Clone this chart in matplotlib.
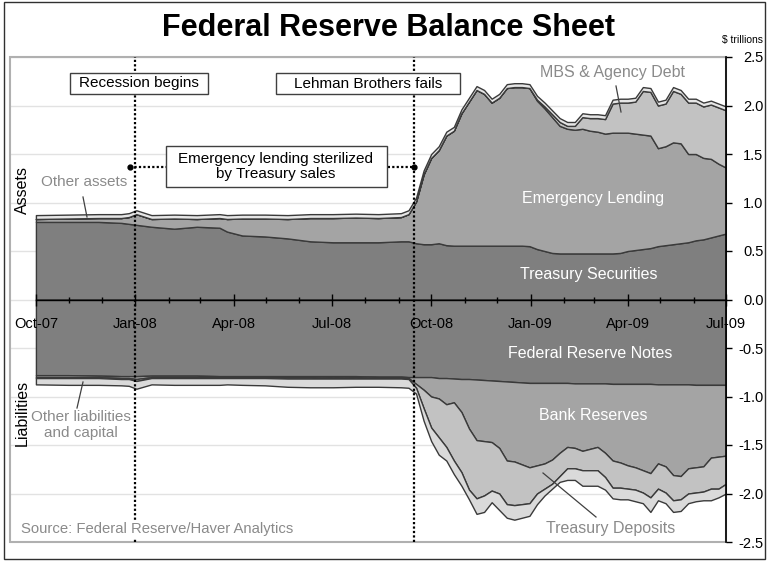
import matplotlib
matplotlib.use('Agg')
import matplotlib.pyplot as plt
import matplotlib.dates as mdates
from matplotlib.patches import Rectangle
from matplotlib.lines import Line2D
from matplotlib.ticker import FormatStrFormatter
import numpy as np
import pandas as pd

plt.rcParams['font.family'] = ['Liberation Sans', 'DejaVu Sans']
plt.rcParams['axes.unicode_minus'] = False

# ---------------- data (trillions of dollars) ----------------
dates = pd.to_datetime([
    '2007-10-01', '2007-10-31', '2007-11-28', '2007-12-19', '2007-12-26',
    '2008-01-02', '2008-01-16', '2008-02-06', '2008-02-27', '2008-03-19',
    '2008-03-26', '2008-04-09', '2008-04-30', '2008-05-21', '2008-06-11',
    '2008-07-02', '2008-07-23', '2008-08-13', '2008-09-03', '2008-09-10',
    '2008-09-17', '2008-09-24', '2008-10-01', '2008-10-08', '2008-10-15',
    '2008-10-22', '2008-10-29', '2008-11-05', '2008-11-12', '2008-11-19',
    '2008-11-26', '2008-12-03', '2008-12-10', '2008-12-17', '2008-12-24',
    '2008-12-31', '2009-01-07', '2009-01-14', '2009-01-21', '2009-01-28',
    '2009-02-04', '2009-02-11', '2009-02-18', '2009-02-25', '2009-03-04',
    '2009-03-11', '2009-03-18', '2009-03-25', '2009-04-01', '2009-04-08',
    '2009-04-15', '2009-04-22', '2009-04-29', '2009-05-06', '2009-05-13',
    '2009-05-20', '2009-05-27', '2009-06-03', '2009-06-10', '2009-06-17',
    '2009-06-24', '2009-07-01'])

# Assets
treasury_securities = [
    0.80, 0.80, 0.80, 0.79, 0.78, 0.77, 0.75, 0.73, 0.75, 0.74,
    0.70, 0.66, 0.65, 0.63, 0.60, 0.59, 0.59, 0.59, 0.60, 0.60,
    0.58, 0.57, 0.57, 0.58, 0.56, 0.555, 0.555, 0.555, 0.555, 0.555,
    0.555, 0.555, 0.555, 0.555, 0.555, 0.55, 0.52, 0.50, 0.48, 0.475,
    0.475, 0.475, 0.475, 0.475, 0.475, 0.475, 0.475, 0.48, 0.50, 0.51,
    0.52, 0.53, 0.55, 0.56, 0.57, 0.58, 0.59, 0.61, 0.62, 0.64,
    0.66, 0.68]
emergency_lending = [
    0.03, 0.035, 0.04, 0.05, 0.07, 0.11, 0.08, 0.105, 0.08, 0.10,
    0.13, 0.175, 0.185, 0.20, 0.24, 0.25, 0.255, 0.25, 0.25, 0.28,
    0.43, 0.72, 0.89, 0.96, 1.13, 1.185, 1.365, 1.485, 1.605, 1.565,
    1.475, 1.525, 1.625, 1.635, 1.635, 1.63, 1.53, 1.47, 1.40, 1.315,
    1.285, 1.275, 1.285, 1.265, 1.255, 1.235, 1.245, 1.24, 1.22, 1.20,
    1.18, 1.16, 1.01, 1.02, 1.05, 1.03, 0.91, 0.89, 0.84, 0.81,
    0.74, 0.68]
mbs_agency_debt = [
    0.0, 0.0, 0.0, 0.0, 0.0, 0.0, 0.0, 0.0, 0.0, 0.0,
    0.0, 0.0, 0.0, 0.0, 0.0, 0.0, 0.0, 0.0, 0.0, 0.0,
    0.0, 0.0, 0.0, 0.0, 0.0, 0.0, 0.0, 0.0, 0.0, 0.0,
    0.0, 0.0, 0.0, 0.0, 0.0, 0.0, 0.01, 0.02, 0.03, 0.04,
    0.03, 0.04, 0.12, 0.13, 0.14, 0.15, 0.30, 0.31, 0.31, 0.33,
    0.45, 0.45, 0.44, 0.44, 0.53, 0.51, 0.53, 0.53, 0.53, 0.56,
    0.58, 0.59]
other_assets = [
    0.04, 0.04, 0.04, 0.04, 0.04, 0.04, 0.04, 0.04, 0.04, 0.04,
    0.04, 0.04, 0.04, 0.04, 0.04, 0.04, 0.04, 0.04, 0.04, 0.04,
    0.04, 0.04, 0.04, 0.04, 0.04, 0.04, 0.04, 0.04, 0.04, 0.04,
    0.04, 0.04, 0.04, 0.04, 0.04, 0.04, 0.04, 0.04, 0.04, 0.04,
    0.04, 0.04, 0.04, 0.04, 0.04, 0.04, 0.04, 0.04, 0.04, 0.04,
    0.04, 0.04, 0.04, 0.04, 0.04, 0.04, 0.04, 0.04, 0.04, 0.04,
    0.04, 0.04]

# Liabilities (magnitudes; plotted downward)
fed_reserve_notes = [
    0.78, 0.78, 0.785, 0.79, 0.79, 0.79, 0.785, 0.785, 0.785, 0.79,
    0.79, 0.79, 0.79, 0.79, 0.79, 0.79, 0.79, 0.795, 0.795, 0.80,
    0.80, 0.80, 0.80, 0.81, 0.81, 0.815, 0.82, 0.82, 0.825, 0.83,
    0.835, 0.84, 0.845, 0.85, 0.855, 0.86, 0.86, 0.86, 0.86, 0.86,
    0.86, 0.865, 0.865, 0.865, 0.865, 0.865, 0.87, 0.87, 0.87, 0.87,
    0.87, 0.87, 0.875, 0.875, 0.875, 0.875, 0.875, 0.88, 0.88, 0.88,
    0.88, 0.88]
bank_reserves = [
    0.02, 0.02, 0.015, 0.02, 0.02, 0.03, 0.015, 0.015, 0.015, 0.01,
    0.01, 0.01, 0.01, 0.01, 0.01, 0.015, 0.01, 0.01, 0.01, 0.01,
    0.07, 0.13, 0.20, 0.21, 0.27, 0.245, 0.34, 0.51, 0.625, 0.63,
    0.635, 0.69, 0.815, 0.82, 0.845, 0.87, 0.85, 0.83, 0.79, 0.72,
    0.66, 0.665, 0.695, 0.675, 0.655, 0.715, 0.79, 0.81, 0.84, 0.86,
    0.89, 0.92, 0.815, 0.845, 0.935, 0.945, 0.865, 0.85, 0.84, 0.75,
    0.74, 0.73]
treasury_deposits = [
    0.01, 0.01, 0.01, 0.01, 0.01, 0.02, 0.01, 0.01, 0.01, 0.01,
    0.01, 0.01, 0.01, 0.015, 0.015, 0.01, 0.015, 0.01, 0.01, 0.01,
    0.04, 0.19, 0.32, 0.40, 0.44, 0.60, 0.62, 0.63, 0.60, 0.56,
    0.50, 0.47, 0.45, 0.45, 0.41, 0.37, 0.29, 0.26, 0.25, 0.24,
    0.22, 0.21, 0.20, 0.22, 0.24, 0.25, 0.28, 0.26, 0.24, 0.23,
    0.23, 0.25, 0.26, 0.27, 0.26, 0.24, 0.26, 0.26, 0.26, 0.32,
    0.33, 0.29]
other_liabilities_capital = [
    0.065, 0.07, 0.07, 0.065, 0.07, 0.08, 0.065, 0.07, 0.07, 0.07,
    0.065, 0.07, 0.075, 0.085, 0.09, 0.09, 0.085, 0.085, 0.09, 0.09,
    0.06, 0.13, 0.14, 0.18, 0.14, 0.14, 0.14, 0.10, 0.16, 0.17,
    0.12, 0.17, 0.14, 0.15, 0.14, 0.13, 0.11, 0.07, 0.05, 0.06,
    0.12, 0.12, 0.16, 0.16, 0.16, 0.13, 0.11, 0.12, 0.11, 0.12,
    0.11, 0.15, 0.12, 0.11, 0.12, 0.12, 0.10, 0.09, 0.09, 0.12,
    0.09, 0.10]

recession_date = pd.Timestamp('2008-01-01')
lehman_date = pd.Timestamp('2008-09-15')
sterilized_start = pd.Timestamp('2007-12-27')
sterilized_level = 1.37

x_start = pd.Timestamp('2007-09-07')
x_end = pd.Timestamp('2009-07-01')
y_ticks = [-2.5, -2.0, -1.5, -1.0, -0.5, 0.0, 0.5, 1.0, 1.5, 2.0, 2.5]

# ---------------- figure ----------------
W, H = 768, 562
fig = plt.figure(figsize=(W / 100, H / 100), dpi=100)
fig.patch.set_facecolor('white')

def fx(px):
    return px / W

def fy(py):
    return 1 - py / H

L, R, T, B = 10, 726, 57, 542
ax = fig.add_axes([fx(L), fy(B), (R - L) / W, (B - T) / H])
ax.set_facecolor('white')

c_dark, c_mid, c_light, c_lightest = '#7f7f7f', '#a4a4a4', '#c2c2c2', '#e6e6e6'
edge = '#3a3a3a'

for v in y_ticks:
    ax.axhline(v, color='#e2e2e2', lw=1.0, zorder=0.5)

ax.stackplot(dates, treasury_securities, emergency_lending, mbs_agency_debt,
             other_assets, colors=[c_dark, c_mid, c_light, c_lightest],
             edgecolor=edge, linewidth=1.0, zorder=1)
ax.stackplot(dates, -np.array(fed_reserve_notes), -np.array(bank_reserves),
             -np.array(treasury_deposits), -np.array(other_liabilities_capital),
             colors=[c_dark, c_mid, c_light, '#dadada'],
             edgecolor=edge, linewidth=1.0, zorder=1)

ax.set_xlim(x_start, x_end)
ax.set_ylim(-2.5, 2.5)

# spines
for s in ['left', 'top']:
    ax.spines[s].set_visible(False)
ax.spines['bottom'].set_position(('data', 0))
ax.spines['bottom'].set_color('black')
ax.spines['bottom'].set_linewidth(1.0)
ax.spines['bottom'].set_bounds(mdates.date2num(dates[0]), mdates.date2num(x_end))
ax.spines['right'].set_color('black')
ax.spines['right'].set_linewidth(1.2)
ax.add_patch(Rectangle((0, 0), 1, 1, transform=ax.transAxes, fill=False,
                       ec='#b0b0b0', lw=1.5, clip_on=False, zorder=0.6))

# x axis
ax.xaxis.set_major_locator(mdates.MonthLocator(bymonth=[1, 4, 7, 10]))
ax.xaxis.set_major_formatter(mdates.DateFormatter('%b-%y'))
ax.xaxis.set_minor_locator(mdates.MonthLocator())
ax.tick_params(axis='x', which='major', direction='inout', length=9, width=1,
               pad=8, labelsize=10.5, colors='black')
ax.tick_params(axis='x', which='minor', direction='inout', length=5, width=1)

# y axis
ax.yaxis.tick_right()
ax.set_yticks(y_ticks)
ax.yaxis.set_major_formatter(FormatStrFormatter('%.1f'))
ax.tick_params(axis='y', direction='out', length=4, width=1, labelsize=10.5, pad=23)
for lab in ax.get_yticklabels():
    lab.set_horizontalalignment('right')

# event lines
dot = (0, (1, 1))
for d in [recession_date, lehman_date]:
    ax.axvline(d, color='black', lw=1.6, ls=dot, zorder=4)
ax.plot([sterilized_start, lehman_date], [sterilized_level, sterilized_level],
        color='black', lw=1.6, ls=dot, zorder=4)
ax.plot([sterilized_start, lehman_date], [sterilized_level, sterilized_level],
        ls='none', marker='o', ms=3.5, color='black', zorder=4)

# ---------------- text ----------------
fig.text(fx(389), fy(28), 'Federal Reserve Balance Sheet', ha='center', va='center',
         fontsize=22, fontweight='bold')
fig.text(fx(743), fy(40), '$ trillions', ha='center', va='center', fontsize=7.5)

def box(x0, y0, x1, y1):
    fig.patches.append(Rectangle((fx(x0), fy(y1)), (x1 - x0) / W, (y1 - y0) / H,
                                 transform=fig.transFigure, fc='white', ec='#404040',
                                 lw=1.0, zorder=6))

box(70, 73, 208, 94)
fig.text(fx(139), fy(83.5), 'Recession begins', ha='center', va='center', fontsize=11, zorder=7)
box(276, 73, 460, 94)
fig.text(fx(368), fy(83.5), 'Lehman Brothers fails', ha='center', va='center', fontsize=11, zorder=7)
box(166, 146, 387, 187)
fig.text(fx(276), fy(166.5), 'Emergency lending sterilized\nby Treasury sales', ha='center',
         va='center', fontsize=11, linespacing=1.05, zorder=7)

gray_txt = '#8a8a8a'
fig.text(fx(612), fy(72), 'MBS & Agency Debt', ha='center', va='center', fontsize=11.5, color=gray_txt, zorder=7)
fig.text(fx(593), fy(198), 'Emergency Lending', ha='center', va='center', fontsize=11.5, color='white', zorder=7)
fig.text(fx(589), fy(275), 'Treasury Securities', ha='center', va='center', fontsize=11.5, color='white', zorder=7)
fig.text(fx(590), fy(353), 'Federal Reserve Notes', ha='center', va='center', fontsize=11.5, color='white', zorder=7)
fig.text(fx(593), fy(416), 'Bank Reserves', ha='center', va='center', fontsize=11.5, color='white', zorder=7)
fig.text(fx(611), fy(529), 'Treasury Deposits', ha='center', va='center', fontsize=11.5, color=gray_txt, zorder=7)
fig.text(fx(84), fy(182), 'Other assets', ha='center', va='center', fontsize=11, color=gray_txt, zorder=7)
fig.text(fx(81), fy(425), 'Other liabilities\nand capital', ha='center', va='center', fontsize=11,
         color=gray_txt, linespacing=1.1, zorder=7)
fig.text(fx(21), fy(529), 'Source: Federal Reserve/Haver Analytics', ha='left', va='center',
         fontsize=10.7, color=gray_txt, zorder=7,
         bbox=dict(fc='white', ec='none', pad=1.5))
fig.text(fx(22), fy(190), 'Assets', ha='center', va='center', rotation=90, fontsize=11.5, zorder=7)
fig.text(fx(22), fy(413), 'Liabilities', ha='center', va='center', rotation=90, fontsize=11.5, zorder=7)

def pointer(x0, y0, x1, y1):
    fig.add_artist(Line2D([fx(x0), fx(x1)], [fy(y0), fy(y1)], transform=fig.transFigure,
                          color='#404040', lw=0.9, zorder=7))

pointer(83, 197, 87, 217)
pointer(83, 382, 77, 408)
pointer(616, 86, 621, 112)
pointer(543, 473, 596, 517)

# figure border
fig.patches.append(Rectangle((fx(4), fy(559)), (765 - 4) / W, (559 - 2) / H,
                             transform=fig.transFigure, fill=False, ec='#303030', lw=1.0, zorder=8))

fig.savefig('out.png', dpi=100)
